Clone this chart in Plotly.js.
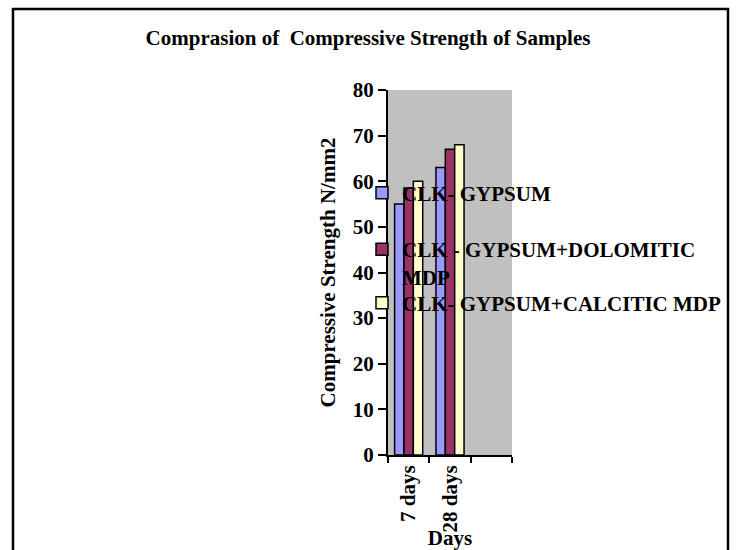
<!DOCTYPE html>
<html>
<head>
<meta charset="utf-8">
<script src="https://cdn.plot.ly/plotly-3.0.1.min.js"></script>
<style>
html, body { margin: 0; padding: 0; background: #ffffff; }
#chart { width: 736px; height: 550px; }
</style>
</head>
<body>
<div id="chart"></div>
<script>
// Data
var categories = ["7 days", "28 days"];
var axisCategories = ["7 days", "28 days", " "];
var seriesNames = ["CLK- GYPSUM", "CLK - GYPSUM+DOLOMITIC<br>MDP", "CLK- GYPSUM+CALCITIC MDP"];
var gypsum = [55, 63];
var dolomitic = [58.5, 67];
var calcitic = [60, 68];
var seriesValues = [gypsum, dolomitic, calcitic];
var yTicks = [0, 10, 20, 30, 40, 50, 60, 70, 80];

var colors = ["#9999ff", "#993366", "#ffffcc"];
var legendIds = ["legend", "legend2", "legend3"];

var traces = seriesValues.map(function (vals, i) {
  return {
    type: "bar",
    x: categories,
    y: vals,
    name: seriesNames[i],
    legend: legendIds[i],
    marker: { color: colors[i], line: { color: "#000000", width: 1.5 } },
    hoverinfo: "x+y+name"
  };
});

var F = "Liberation Serif, Times New Roman, serif";
var FS = 21;
var L = 388, R = 512, T = 90, B = 455;
var W = R - L, H = B - T;
function px(x) { return (x - L) / W; }
function py(y) { return (B - y) / H; }
function font() { return { family: F, size: FS, color: "#000000", weight: "bold" }; }

function leg(yPix) {
  return {
    xanchor: "left",
    yanchor: "middle",
    bgcolor: "rgba(0,0,0,0)",
    borderwidth: 0,
    itemwidth: 30,
    valign: "top",
    font: font(),
    x: px(362),
    y: py(yPix)
  };
}

var layout = {
  width: 736,
  height: 550,
  margin: { l: L, r: 736 - R, t: T, b: 550 - B, pad: 0 },
  paper_bgcolor: "#ffffff",
  plot_bgcolor: "#c0c0c0",
  showlegend: true,
  barmode: "group",
  bargap: 0.32,
  bargroupgap: 0,
  font: font(),
  title: {
    text: "Comprasion of\u00a0\u00a0Compressive Strength of Samples",
    font: font(),
    x: 0.5, xref: "container", xanchor: "center",
    y: 1 - 38 / 550, yref: "container", yanchor: "middle"
  },
  xaxis: {
    type: "category",
    categoryorder: "array",
    categoryarray: axisCategories,
    range: [-0.5, 2.5],
    tickson: "boundaries",
    ticks: "outside",
    ticklen: 6,
    tickwidth: 2,
    tickcolor: "#000000",
    showline: true,
    linecolor: "#000000",
    linewidth: 2,
    showgrid: false,
    tickangle: -90,
    tickfont: font(),
    title: { text: "Days", font: font() },
    fixedrange: true
  },
  yaxis: {
    range: [0, 80],
    tickvals: yTicks,
    ticks: "outside",
    ticklen: 8,
    tickwidth: 2,
    tickcolor: "#000000",
    showline: true,
    linecolor: "#000000",
    linewidth: 2,
    showgrid: false,
    zeroline: false,
    tickfont: font(),
    title: { text: "Compressive Strength N/mm2", font: font() },
    fixedrange: true
  },
  legend: leg(193),
  legend2: leg(263),
  legend3: leg(303),
  shapes: [{
    type: "rect", xref: "paper", yref: "paper",
    x0: px(13), x1: px(728), y0: py(580), y1: py(9),
    line: { color: "#000000", width: 2.5 }, fillcolor: "rgba(0,0,0,0)", layer: "above"
  }]
};

Plotly.newPlot("chart", traces, layout, { displayModeBar: false, staticPlot: true });
</script>
</body>
</html>
